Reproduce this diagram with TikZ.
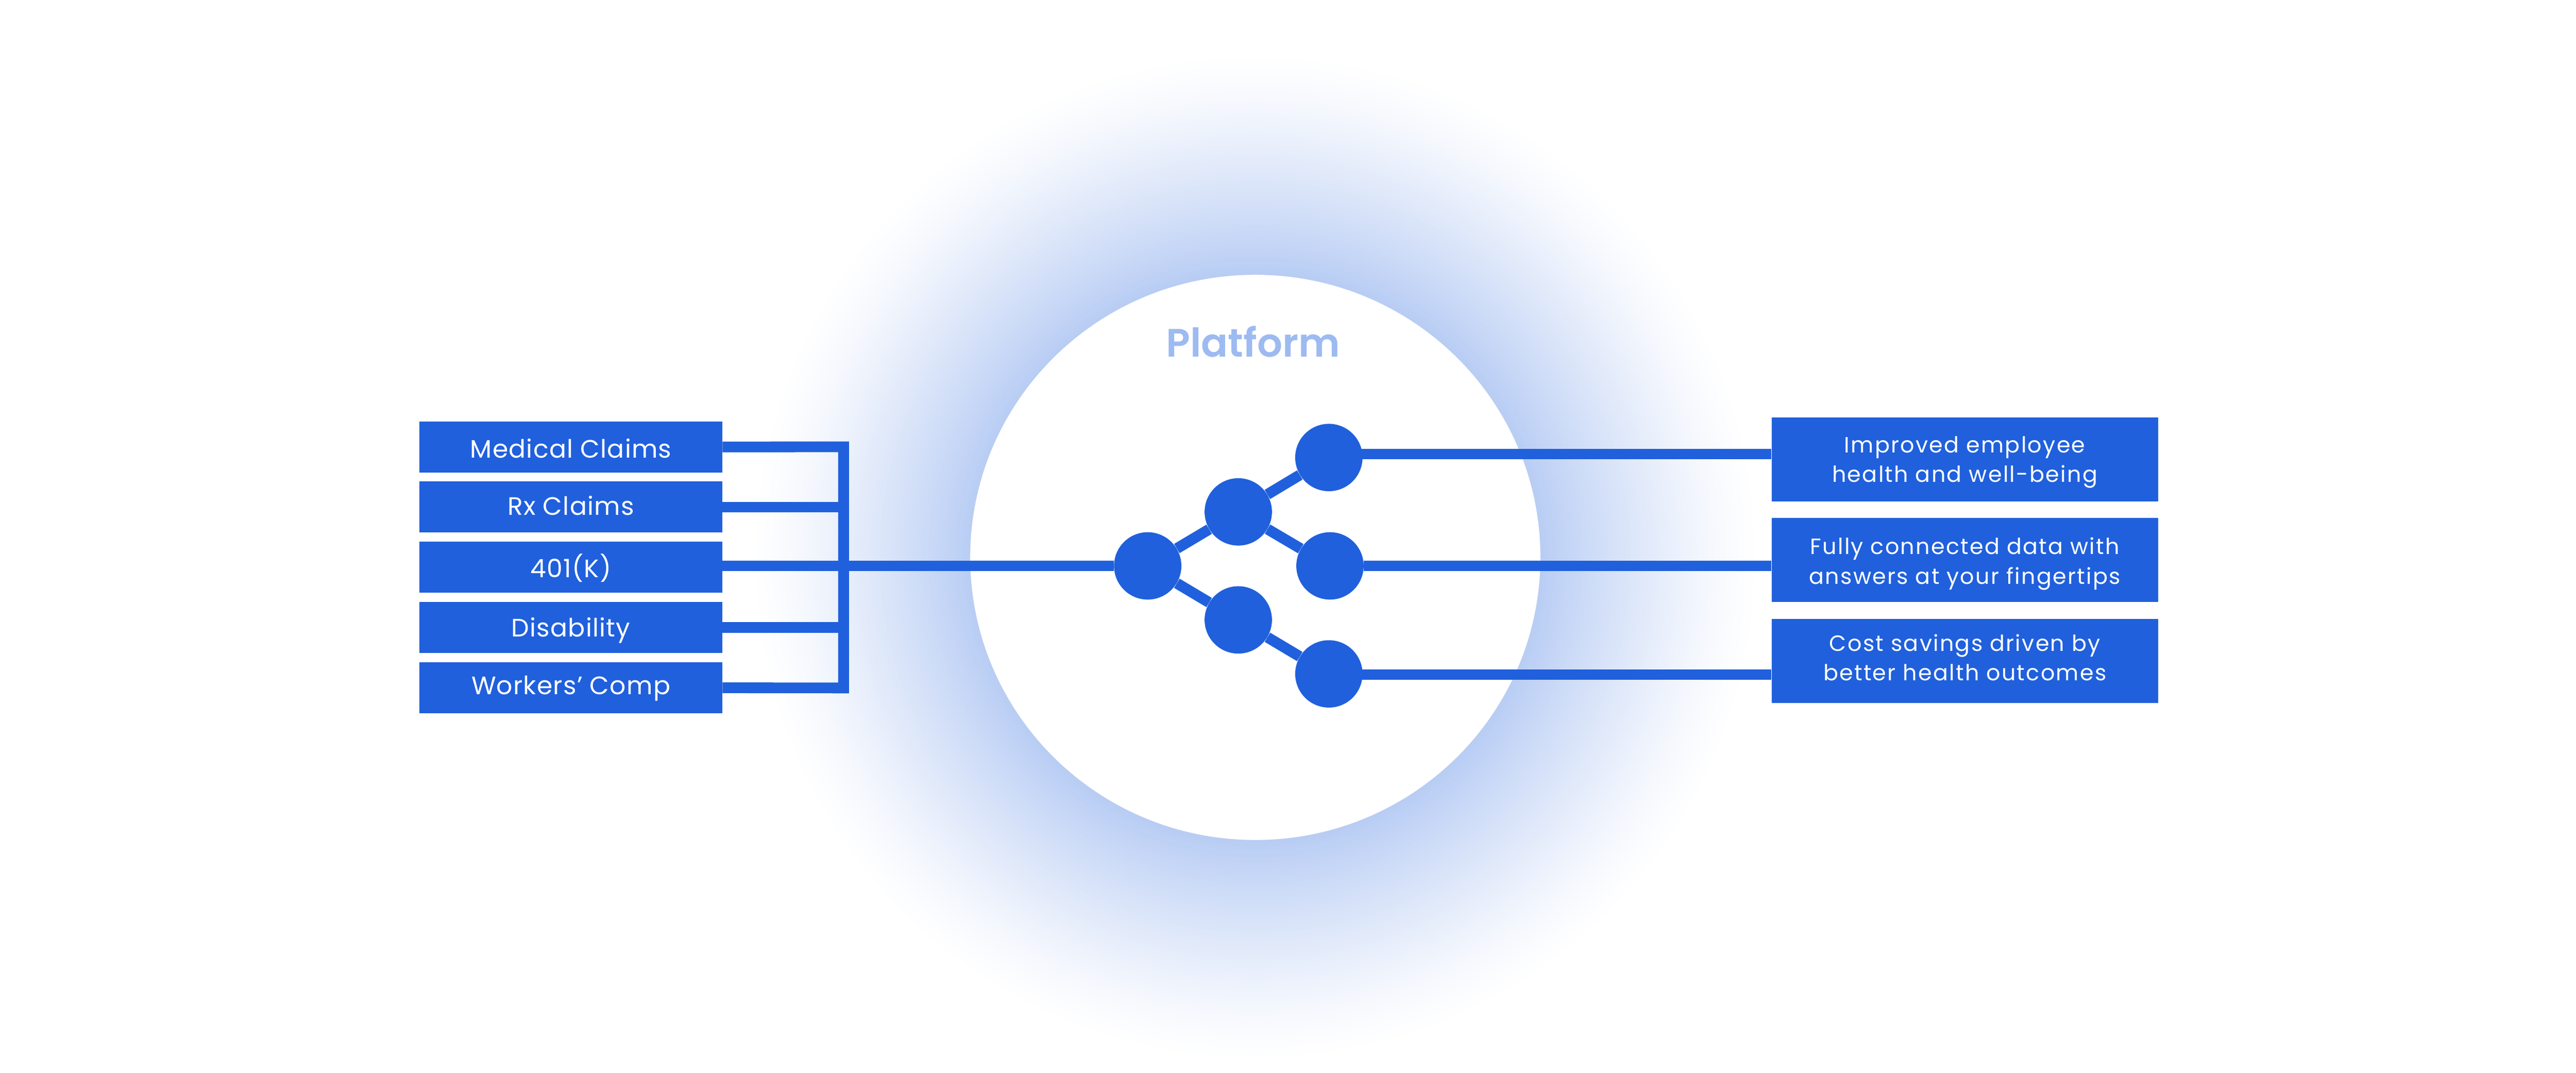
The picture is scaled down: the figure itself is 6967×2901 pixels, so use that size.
\documentclass[tikz,border=0pt]{standalone}
\usepackage{fontspec}
\usepackage{xcolor}
\setmainfont{Poppins}
\newfontfamily\titlefont{Poppins SemiBold}
\usetikzlibrary{positioning}

\definecolor{boxblue}{RGB}{32,96,220}
\definecolor{titleblue}{RGB}{157,186,241}

\begin{document}
\begin{tikzpicture}[x=0.01cm,y=-0.01cm,
    inbox/.style={fill=boxblue,text=white,inner sep=0pt,minimum width=8.18cm,minimum height=1.38cm,text depth=0pt,font=\fontsize{19.4}{24}\selectfont\addfontfeature{LetterSpace=2.4}},
    outbox/.style={fill=boxblue,text=white,inner sep=0pt,minimum width=10.44cm,minimum height=2.27cm,text depth=0pt,align=center,font=\fontsize{17}{22.76}\selectfont\addfontfeature{LetterSpace=5.3}},
    dot/.style={circle,fill=boxblue,inner sep=0pt,minimum size=1.82cm},
    link/.style={draw=boxblue,line width=0.29cm}]
    \useasboundingbox (0,0) rectangle (6967,2901);
    \fill[white] (0,0) rectangle (6967,2901);

    % glow and platform disc
    \coordinate (hub) at (3395,1507);
    \foreach \r in {1361,1357,...,764} {
        \pgfmathsetmacro{\glow}{32*pow((1365-\r)/601,1.3)}
        \fill[boxblue!\glow!white] (hub) circle (\r);
    }
    \fill[white] (hub) ellipse (771 and 764);
    \node[anchor=base,text=titleblue,font=\fontsize{30.5}{31}\selectfont\titlefont] (title) at (3389,964.5) {Platform};

    % inputs
    \node[inbox,text height=0.59cm] (medical) at (1544,1208.5) {Medical Claims};
    \node[inbox,text height=0.44cm] (rx) at (1544,1371) {Rx Claims};
    \node[inbox,text height=0.55cm] (fourk) at (1544,1533.5) {401(K)};
    \node[inbox,text height=0.50cm] (disability) at (1544,1697) {Disability};
    \node[inbox,text height=0.35cm] (comp) at (1544,1859.5) {Workers’ Comp};

    % outcomes
    \node[outbox,text height=1.23cm] (health) at (5314,1242.5) {Improved employee\\health and well-being};
    \node[outbox,text height=1.29cm] (answers) at (5314,1514.5) {Fully connected data with\\answers at your fingertips};
    \node[outbox,text height=1.07cm] (savings) at (5314,1786.5) {Cost savings driven by\\better health outcomes};

    % tree
    \node[dot] (root) at (3104,1530) {};
    \node[dot] (upper) at (3349,1384) {};
    \node[dot] (lower) at (3349,1676) {};
    \node[dot] (leafa) at (3594,1237) {};
    \node[dot] (leafb) at (3597,1530) {};
    \node[dot] (leafc) at (3594,1822) {};

    \coordinate (bustop) at (2281.5,1208);
    \coordinate (busend) at (2281.5,1860);
    \coordinate (tapa) at (3594,1227.5);
    \coordinate (tapc) at (3594,1824);

    \draw[link] (medical.east) -- (bustop) -- (busend) -- (comp.east);
    \draw[link] (rx.east) -- (rx.east -| bustop);
    \draw[link] (disability.east) -- (disability.east -| bustop);
    \draw[link] (fourk.east |- root) -- (root);
    \draw[link] (root) -- (upper);
    \draw[link] (root) -- (lower);
    \draw[link] (upper) -- (leafa);
    \draw[link] (upper) -- (leafb);
    \draw[link] (lower) -- (leafc);
    \draw[link] (tapa) -- (tapa -| health.west);
    \draw[link] (leafb) -- (leafb -| answers.west);
    \draw[link] (tapc) -- (tapc -| savings.west);
\end{tikzpicture}
\end{document}
